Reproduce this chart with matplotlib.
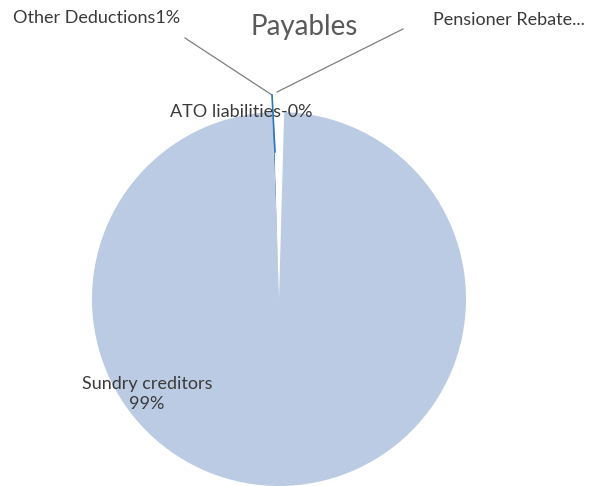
#!/usr/bin/env python3

import matplotlib
matplotlib.use('Agg')
import matplotlib.pyplot as plt

# Payables breakdown (percent of total)
categories = ['ATO liabilities', 'Other Deductions', 'Pensioner Rebate', 'Sundry creditors']
values = [0.1, 0.8, 0.1, 99.0]
label_texts = ['ATO liabilities-0%', 'Other Deductions1%', 'Pensioner Rebate...', 'Sundry creditors\n99%']
colors = ['#2e75b6', '#ffffff', '#fbfcfe', '#bbcbe4']

W, H = 599, 486

plt.rcParams['font.family'] = ['Lato', 'DejaVu Sans']

fig = plt.figure(figsize=(W/100, H/100), dpi=100)
ax = fig.add_axes([0, 0, 1, 1])

def py(y) :
    # pixel row -> data y
    return H - y

cx, cy, r = 279, py(299), 187

ax.pie(values, colors=colors, startangle=92, counterclock=False,
       center=(cx, cy), radius=r, frame=True,
       wedgeprops=dict(linewidth=0))
ax.set_xlim(0, W)
ax.set_ylim(0, H)
ax.set_aspect('equal')
ax.axis('off')

# leader lines
lc = '#7f7f7f'
ax.plot([185, 272], [py(38), py(95)], color=lc, lw=0.9)
ax.plot([277, 403], [py(92), py(29)], color=lc, lw=0.9)
ax.plot([272, 275], [py(95), py(152)], color='#2e75b6', lw=1.2)

txt = '#3a3a3a'
fs = 13
ax.text(304, py(27), 'Payables', fontsize=20, color='#595959', ha='center', va='center')
ax.text(13, py(18), label_texts[1], fontsize=fs, color=txt, ha='left', va='center')
ax.text(433, py(20), label_texts[2], fontsize=fs, color=txt, ha='left', va='center')
ax.text(170, py(112), label_texts[0], fontsize=fs, color=txt, ha='left', va='center')
ax.text(147, py(394), label_texts[3], fontsize=fs, color=txt, ha='center', va='center',
        linespacing=1.25)

fig.savefig('out.png', dpi=100, facecolor='white')
